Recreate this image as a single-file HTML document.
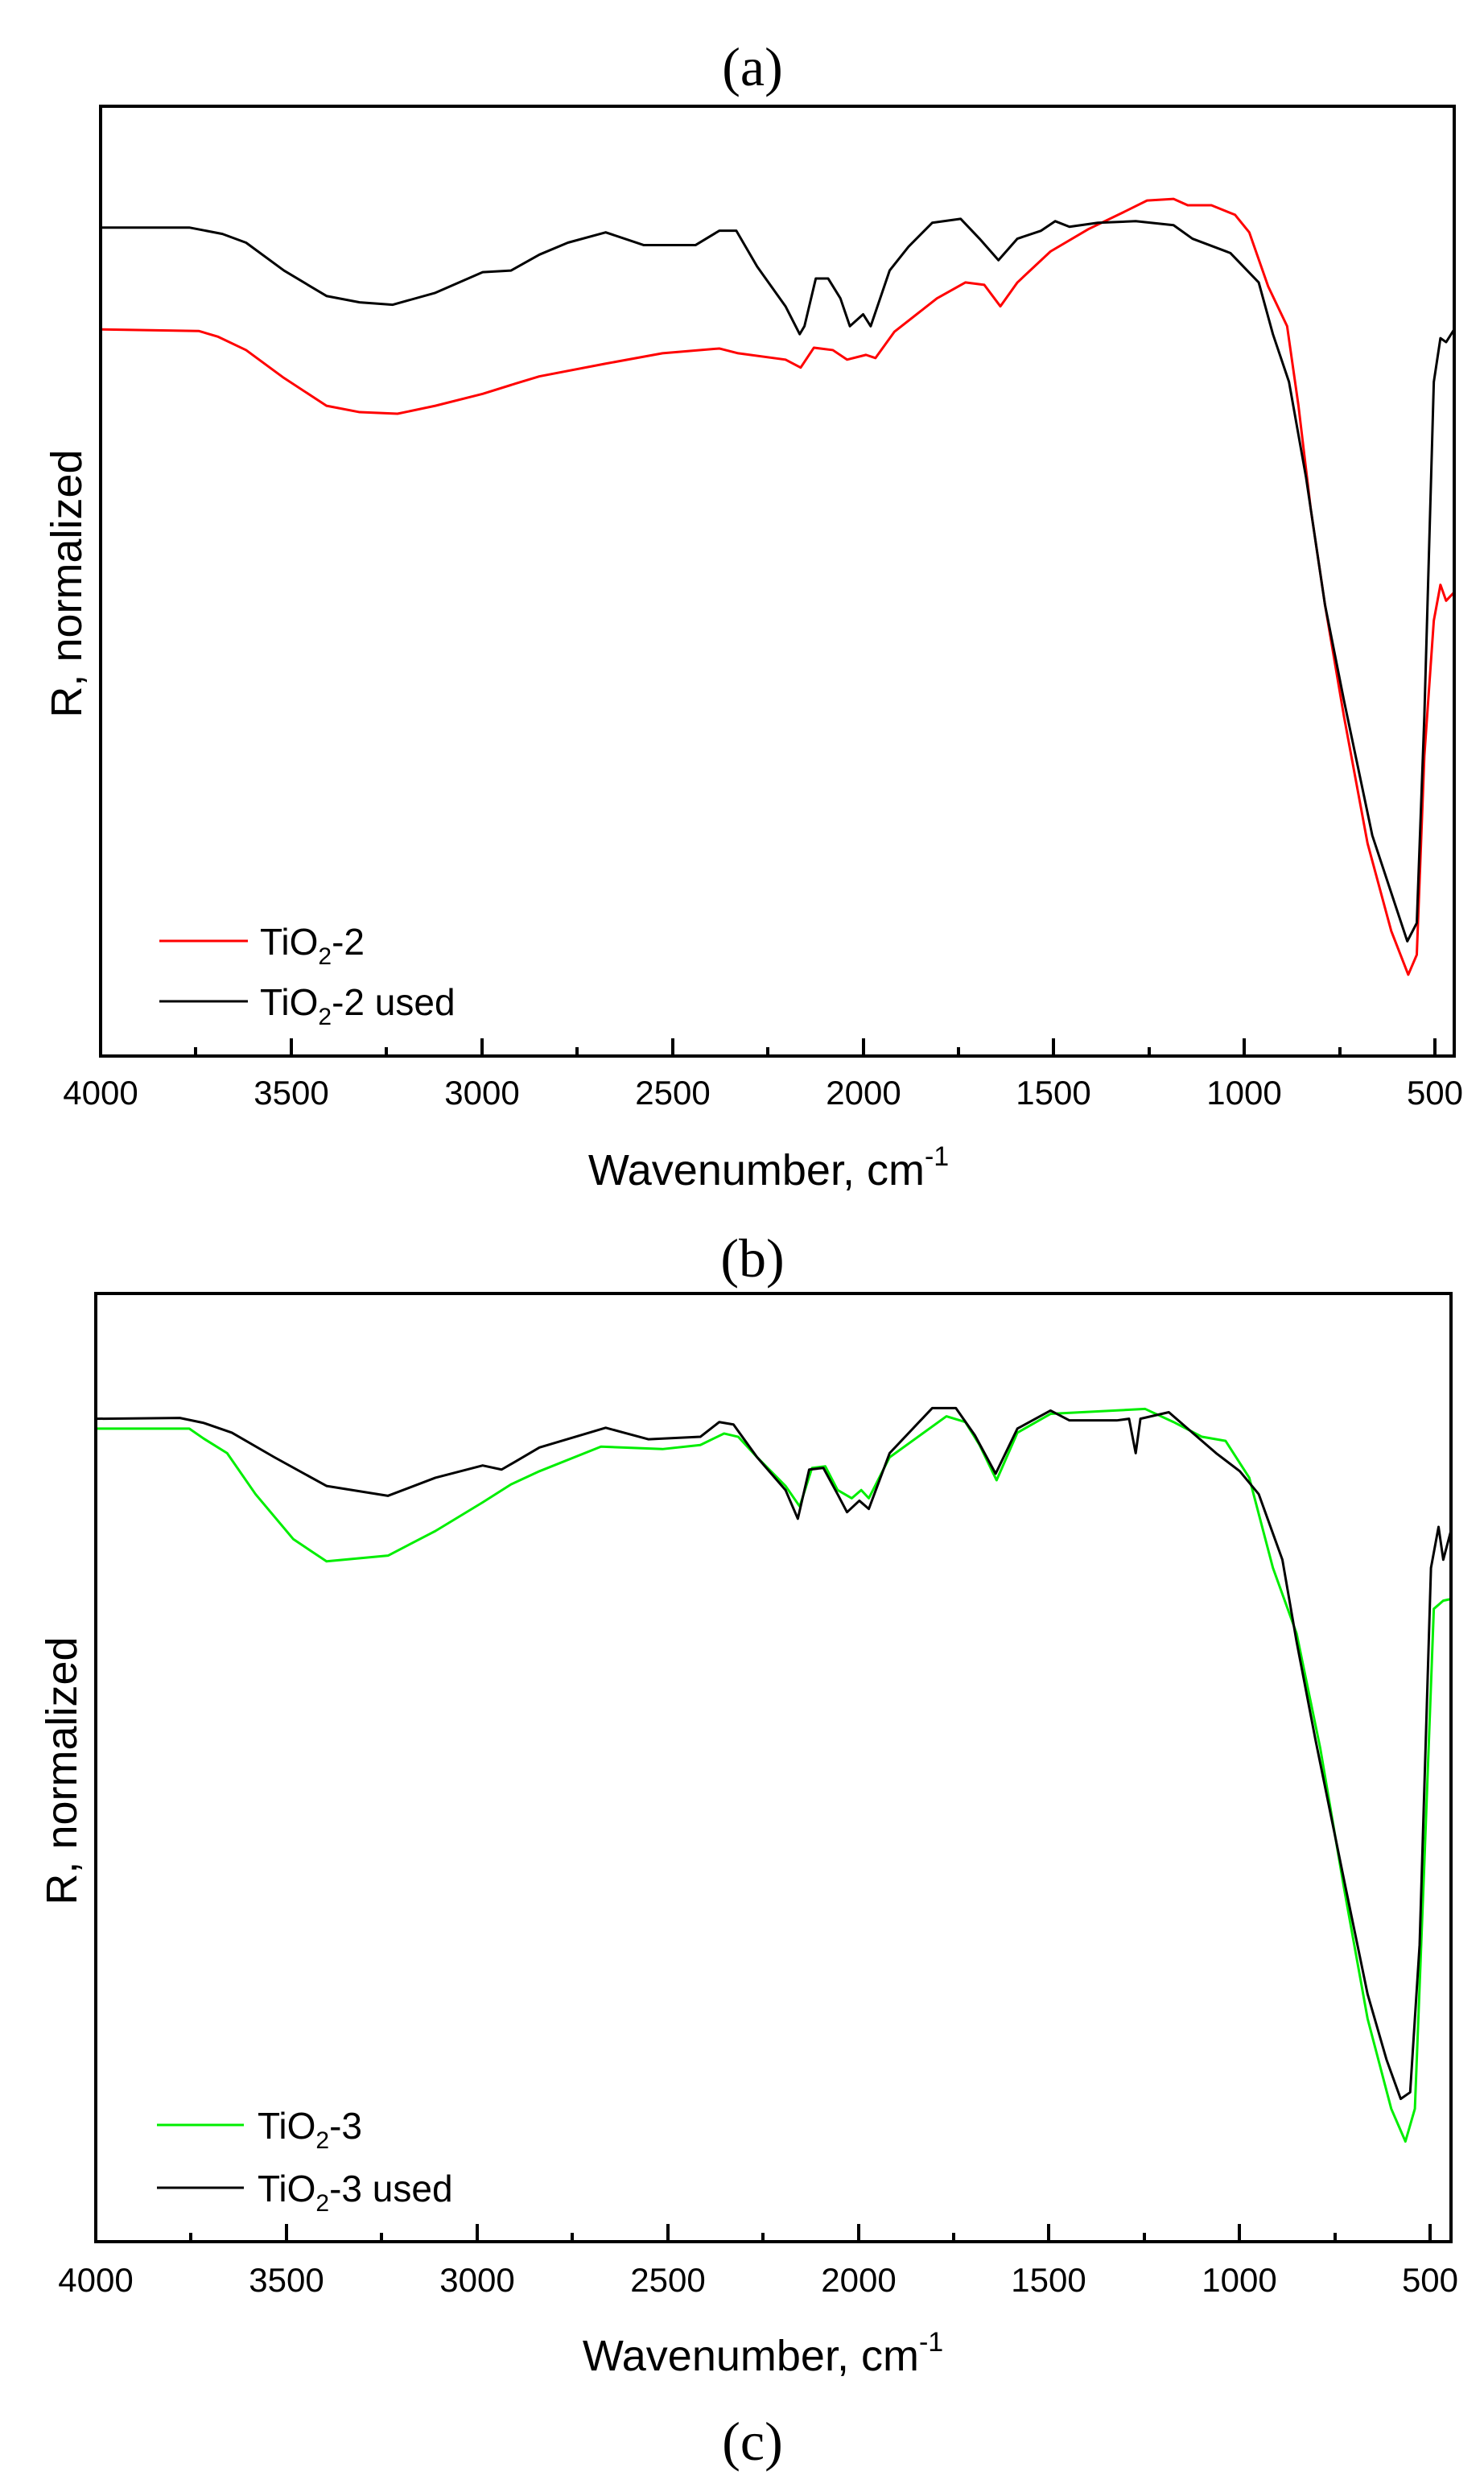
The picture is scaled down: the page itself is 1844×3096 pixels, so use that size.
<!DOCTYPE html>
<html><head><meta charset="utf-8"><style>
html,body{margin:0;padding:0;background:#fff}
svg{display:block}
.t{font-family:"Liberation Sans",Arial,sans-serif}
.s{font-family:"Liberation Serif","Times New Roman",serif}
</style></head><body>
<svg width="1844" height="3096" viewBox="0 0 1844 3096" xmlns="http://www.w3.org/2000/svg">
<rect width="1844" height="3096" fill="#fff"/>
<!-- titles -->
<text class="s" x="935" y="106" font-size="68" text-anchor="middle">(a)</text>
<text class="s" x="935" y="1586" font-size="68" text-anchor="middle">(b)</text>
<text class="s" x="935" y="3056" font-size="68" text-anchor="middle">(c)</text>

<!-- Panel a curves -->
<g transform="matrix(1.176 0 0 0.9885 0 0)" fill="none" stroke-linejoin="round">
<polyline stroke="#ff0000" stroke-width="3" vector-effect="non-scaling-stroke" points="106,414 210,416 230,423 260,440 300,475 345,510 380,518 420,520 460,510 510,495 545,482 570,473 640,457 700,444 760,438 780,444 830,452 846,462 860,437 880,440 895,452 915,446 925,450 945,417 990,375 1020,355 1040,358 1057,385 1075,355 1110,316 1150,288 1190,265 1212,252 1240,250 1255,258 1280,258 1305,270 1320,292 1340,360 1360,410 1372,510 1385,640 1400,760 1420,900 1445,1060 1470,1170 1488,1225 1497,1200 1505,950 1515,780 1522,735 1528,755 1536,745"/>
<polyline stroke="#000" stroke-width="3" vector-effect="non-scaling-stroke" points="106,286 200,286 235,294 260,305 300,340 345,372 380,380 415,383 460,368 510,342 540,340 570,320 600,305 640,292 680,308 735,308 760,290 778,290 800,335 830,385 845,420 850,410 862,350 875,350 888,375 898,410 912,395 920,410 940,340 960,310 985,280 1015,275 1035,300 1055,327 1075,300 1100,290 1115,278 1130,285 1160,280 1200,278 1240,283 1260,300 1300,318 1330,355 1345,420 1362,480 1380,600 1400,760 1420,880 1450,1050 1475,1140 1487,1183 1497,1160 1505,900 1515,480 1522,425 1528,430 1536,415"/>
</g>
<!-- Panel b curves -->
<g transform="matrix(1.176 0 0 1.018 0 1500)" fill="none" stroke-linejoin="round">
<polyline stroke="#00ee00" stroke-width="3" vector-effect="non-scaling-stroke" points="101,270 200,270 215,282 240,300 270,350 310,405 345,432 410,425 460,395 510,360 540,338 570,322 635,292 700,295 740,290 765,276 780,280 800,305 830,340 845,365 858,318 872,316 885,345 900,355 910,345 918,355 940,305 1000,255 1020,262 1035,290 1053,333 1075,275 1110,252 1210,246 1240,262 1270,280 1295,285 1320,330 1345,440 1370,520 1395,660 1420,830 1445,990 1470,1100 1485,1140 1495,1100 1505,800 1515,490 1525,480 1533,478"/>
<polyline stroke="#000" stroke-width="3" vector-effect="non-scaling-stroke" points="101,258 190,257 215,263 245,275 290,305 345,340 410,352 460,330 510,315 530,320 545,310 570,293 640,269 685,283 740,280 760,262 775,265 800,305 830,345 843,380 855,320 870,318 885,350 895,372 908,358 918,368 940,300 985,245 1010,245 1030,278 1052,325 1075,270 1110,248 1130,260 1180,260 1193,258 1200,300 1205,258 1235,250 1260,275 1285,300 1310,322 1330,350 1355,430 1370,530 1390,650 1420,820 1445,960 1465,1040 1480,1088 1490,1080 1500,900 1512,440 1520,390 1525,430 1533,395"/>
</g>

<!-- Frames -->
<rect x="125" y="132" width="1682" height="1180" fill="none" stroke="#000" stroke-width="4"/>
<rect x="119" y="1607" width="1684" height="1178" fill="none" stroke="#000" stroke-width="4"/>

<!-- ticks a -->
<g stroke="#000" stroke-width="4">
<line x1="125" y1="1312" x2="125" y2="1290"/><line x1="243" y1="1312" x2="243" y2="1301"/>
<line x1="362" y1="1312" x2="362" y2="1290"/><line x1="480" y1="1312" x2="480" y2="1301"/>
<line x1="599" y1="1312" x2="599" y2="1290"/><line x1="717" y1="1312" x2="717" y2="1301"/>
<line x1="836" y1="1312" x2="836" y2="1290"/><line x1="954" y1="1312" x2="954" y2="1301"/>
<line x1="1073" y1="1312" x2="1073" y2="1290"/><line x1="1191" y1="1312" x2="1191" y2="1301"/>
<line x1="1309" y1="1312" x2="1309" y2="1290"/><line x1="1428" y1="1312" x2="1428" y2="1301"/>
<line x1="1546" y1="1312" x2="1546" y2="1290"/><line x1="1665" y1="1312" x2="1665" y2="1301"/>
<line x1="1783" y1="1312" x2="1783" y2="1290"/>
</g>
<g class="t" font-size="42" text-anchor="middle">
<text x="125" y="1372">4000</text><text x="362" y="1372">3500</text><text x="599" y="1372">3000</text>
<text x="836" y="1372">2500</text><text x="1073" y="1372">2000</text><text x="1309" y="1372">1500</text>
<text x="1546" y="1372">1000</text><text x="1783" y="1372">500</text>
</g>
<!-- ticks b -->
<g stroke="#000" stroke-width="4">
<line x1="119" y1="2785" x2="119" y2="2763"/><line x1="237" y1="2785" x2="237" y2="2774"/>
<line x1="356" y1="2785" x2="356" y2="2763"/><line x1="474" y1="2785" x2="474" y2="2774"/>
<line x1="593" y1="2785" x2="593" y2="2763"/><line x1="711" y1="2785" x2="711" y2="2774"/>
<line x1="830" y1="2785" x2="830" y2="2763"/><line x1="948" y1="2785" x2="948" y2="2774"/>
<line x1="1067" y1="2785" x2="1067" y2="2763"/><line x1="1185" y1="2785" x2="1185" y2="2774"/>
<line x1="1303" y1="2785" x2="1303" y2="2763"/><line x1="1422" y1="2785" x2="1422" y2="2774"/>
<line x1="1540" y1="2785" x2="1540" y2="2763"/><line x1="1659" y1="2785" x2="1659" y2="2774"/>
<line x1="1777" y1="2785" x2="1777" y2="2763"/>
</g>
<g class="t" font-size="42" text-anchor="middle">
<text x="119" y="2847">4000</text><text x="356" y="2847">3500</text><text x="593" y="2847">3000</text>
<text x="830" y="2847">2500</text><text x="1067" y="2847">2000</text><text x="1303" y="2847">1500</text>
<text x="1540" y="2847">1000</text><text x="1777" y="2847">500</text>
</g>

<!-- axis titles -->
<text class="t" x="955" y="1472" font-size="54" text-anchor="middle">Wavenumber, cm<tspan font-size="34" dy="-24">-1</tspan></text>
<text class="t" x="948" y="2945" font-size="54" text-anchor="middle">Wavenumber, cm<tspan font-size="34" dy="-24">-1</tspan></text>
<text class="t" font-size="54" text-anchor="middle" transform="translate(101 725) rotate(-90)">R, normalized</text>
<text class="t" font-size="54" text-anchor="middle" transform="translate(95 2200) rotate(-90)">R, normalized</text>

<!-- legends -->
<line x1="198" y1="1169" x2="308" y2="1169" stroke="#ff0000" stroke-width="3"/>
<line x1="198" y1="1244" x2="308" y2="1244" stroke="#000" stroke-width="3"/>
<text class="t" x="323" y="1186" font-size="46">TiO<tspan font-size="30" dy="12">2</tspan><tspan dy="-12">-2</tspan></text>
<text class="t" x="323" y="1261" font-size="46">TiO<tspan font-size="30" dy="12">2</tspan><tspan dy="-12">-2 used</tspan></text>

<line x1="195" y1="2640" x2="303" y2="2640" stroke="#00ee00" stroke-width="3"/>
<line x1="195" y1="2718" x2="303" y2="2718" stroke="#000" stroke-width="3"/>
<text class="t" x="320" y="2657" font-size="46">TiO<tspan font-size="30" dy="12">2</tspan><tspan dy="-12">-3</tspan></text>
<text class="t" x="320" y="2735" font-size="46">TiO<tspan font-size="30" dy="12">2</tspan><tspan dy="-12">-3 used</tspan></text>
</svg>
</body></html>
